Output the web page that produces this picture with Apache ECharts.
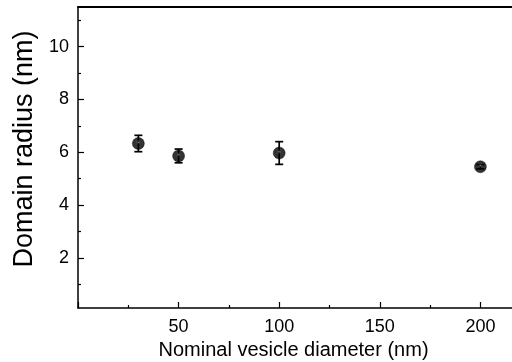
<!DOCTYPE html>
<html>
<head>
<meta charset="utf-8">
<script src="https://cdn.jsdelivr.net/npm/echarts@6/dist/echarts.min.js"></script>
<style>html,body{margin:0;padding:0;background:#fff;}#c{width:512px;height:362px;}</style>
</head>
<body>
<div id="c"></div>
<script>
var diameters = [30, 50, 100, 200];
var radii = [6.33, 5.86, 5.97, 5.45];
var errors = [0.31, 0.26, 0.43, 0.08];
var yMajorTicks = [2, 4, 6, 8, 10];
var yMinorTicks = [1, 3, 5, 7, 9, 11];
var xTickLabels = [50, 100, 150, 200];

var pts = diameters.map(function (d, i) { return [d, radii[i]]; });
var errData = diameters.map(function (d, i) { return [d, radii[i] - errors[i], radii[i] + errors[i]]; });

var FONT = 'Liberation Sans, Arial, sans-serif';
var chart = echarts.init(document.getElementById('c'), null, { renderer: 'canvas' });
chart.setOption({
  animation: false,
  backgroundColor: '#fff',
  grid: { left: 78, top: 7, bottom: 54, right: -69, containLabel: false, outerBoundsMode: 'none' },
  xAxis: [{
    type: 'value', position: 'bottom', min: 0, max: 250, interval: 50,
    name: 'Nominal vesicle diameter (nm)', nameLocation: 'middle', nameGap: 31,
    nameTextStyle: { fontFamily: FONT, fontSize: 20, color: '#000', padding: [0, 72, 0, 0] },
    axisLine: { show: true, lineStyle: { color: '#000', width: 1.5 } },
    axisTick: { show: true, inside: true, length: 6, lineStyle: { color: '#000', width: 1.2 } },
    minorTick: { show: true, splitNumber: 2, length: 3, lineStyle: { color: '#000', width: 1.2 } },
    axisLabel: { fontFamily: FONT, fontSize: 18, color: '#000', margin: 10,
      formatter: function (v) { return xTickLabels.indexOf(v) >= 0 ? String(v) : ''; } },
    splitLine: { show: false }, minorSplitLine: { show: false }
  }, {
    type: 'value', position: 'top', min: 0, max: 250,
    axisLine: { show: true, lineStyle: { color: '#000', width: 2 } },
    axisTick: { show: false }, axisLabel: { show: false }, splitLine: { show: false }
  }],
  yAxis: [{
    type: 'value', position: 'left', min: 0.1, max: 11.5,
    name: 'Domain radius (nm)', nameLocation: 'middle', nameGap: 38, nameRotate: 90,
    nameTextStyle: { fontFamily: FONT, fontSize: 27, color: '#000', padding: [0, 0, 0, 17] },
    axisLine: { show: true, lineStyle: { color: '#000', width: 1.5 } },
    axisTick: { show: true, inside: true, length: 6, customValues: yMajorTicks, lineStyle: { color: '#000', width: 1.2 } },
    axisLabel: { fontFamily: FONT, fontSize: 18, color: '#000', margin: 9, customValues: yMajorTicks },
    splitLine: { show: false }
  }, {
    type: 'value', position: 'left', min: 0.1, max: 11.5,
    axisLine: { show: false },
    axisTick: { show: true, inside: true, length: 3, customValues: yMinorTicks, lineStyle: { color: '#000', width: 1.2 } },
    axisLabel: { show: false },
    splitLine: { show: false }
  }],
  series: [{
    type: 'custom',
    xAxisIndex: 0, yAxisIndex: 0,
    data: errData,
    z: 2,
    renderItem: function (params, api) {
      var x = api.value(0);
      var lo = api.coord([x, api.value(1)]);
      var hi = api.coord([x, api.value(2)]);
      var cap = 4;
      var st = { stroke: '#000', lineWidth: 1.7 };
      return {
        type: 'group',
        children: [
          { type: 'line', shape: { x1: lo[0], y1: lo[1], x2: hi[0], y2: hi[1] }, style: st },
          { type: 'line', shape: { x1: lo[0] - cap, y1: lo[1], x2: lo[0] + cap, y2: lo[1] }, style: st },
          { type: 'line', shape: { x1: hi[0] - cap, y1: hi[1], x2: hi[0] + cap, y2: hi[1] }, style: st }
        ]
      };
    }
  }, {
    type: 'scatter',
    xAxisIndex: 0, yAxisIndex: 0,
    data: pts,
    z: 3,
    symbol: 'circle',
    symbolSize: 12,
    itemStyle: {
      color: new echarts.graphic.RadialGradient(0.5, 0.4, 0.5, [
        { offset: 0, color: '#a0a0a0' },
        { offset: 0.15, color: '#2a2a2a' },
        { offset: 0.4, color: '#000' },
        { offset: 1, color: '#000' }
      ]),
      borderColor: '#000', borderWidth: 0.5
    }
  }]
});
</script>
</body>
</html>
